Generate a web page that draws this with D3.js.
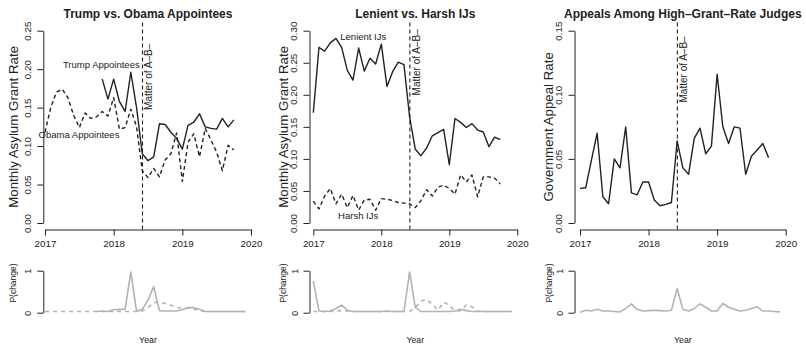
<!DOCTYPE html>
<html>
<head>
<meta charset="utf-8">
<script src="https://cdn.jsdelivr.net/npm/d3@7"></script>
<style>
  body { margin: 0; background: #fff; }
  svg { display: block; font-family: "Liberation Sans", Arial, Helvetica, sans-serif; }
</style>
</head>
<body>
<svg id="chart" width="806" height="348"></svg>
<script>
// Monthly series, January 2017 onward
const monthIndex = d3.range(36);
const toYear = i => 2017 + i / 12;
const yearTicks = [2017, 2018, 2019, 2020];
const matterOfAB = 2018.42;

// Monthly asylum grant rates by appointing administration
const trumpRate = [null, null, null, null, null, null, null, null, null, null,
  0.187, 0.161, 0.187, 0.158, 0.145, 0.196, 0.150, 0.090, 0.081, 0.086,
  0.129, 0.128, 0.118, 0.110, 0.096, 0.127, 0.131, 0.142, 0.125, 0.123,
  0.122, 0.136, 0.125, 0.134];
const obamaRate = [0.118, 0.150, 0.170, 0.174, 0.163, 0.140, 0.124, 0.143, 0.136, 0.138,
  0.145, 0.139, 0.163, 0.122, 0.124, 0.148, 0.125, 0.068, 0.059, 0.071,
  0.060, 0.082, 0.090, 0.117, 0.054, 0.105, 0.116, 0.086, 0.123, 0.108,
  0.092, 0.068, 0.101, 0.095];

// Monthly asylum grant rates of lenient and harsh immigration judges
const lenientRate = [0.172, 0.274, 0.268, 0.281, 0.288, 0.274, 0.238, 0.223, 0.273, 0.237,
  0.257, 0.248, 0.279, 0.213, 0.236, 0.251, 0.247, 0.165, 0.115, 0.105,
  0.117, 0.136, 0.141, 0.146, 0.091, 0.163, 0.157, 0.149, 0.155, 0.145,
  0.142, 0.119, 0.134, 0.130];
const harshRate = [0.034, 0.022, 0.042, 0.054, 0.030, 0.045, 0.024, 0.043, 0.020, 0.036,
  0.037, 0.020, 0.038, 0.037, 0.035, 0.032, 0.031, 0.030, 0.024, 0.035,
  0.052, 0.042, 0.056, 0.059, 0.054, 0.045, 0.075, 0.064, 0.075, 0.041,
  0.072, 0.072, 0.070, 0.061];

// Government appeal rate among high-grant-rate judges
const appealRate = [0.027, 0.0275, 0.049, 0.070, 0.0205, 0.015, 0.050, 0.043, 0.075, 0.0235,
  0.022, 0.032, 0.032, 0.018, 0.0135, 0.0145, 0.016, 0.064, 0.043, 0.038,
  0.066, 0.074, 0.054, 0.060, 0.116, 0.075, 0.062, 0.075, 0.074, 0.038,
  0.052, 0.057, 0.062, 0.051];

// Posterior probability of a change point in each month
const pChangeTrump = [null, null, null, null, null, null, null, null, null,
  0.03, 0.04, 0.03, 0.07, 0.08, 0.08, 0.97, 0.03, 0.08, 0.30, 0.62,
  0.05, 0.04, 0.04, 0.04, 0.07, 0.12, 0.12, 0.08, 0.03, 0.03,
  0.03, 0.03, 0.03, 0.03, 0.03, 0.03];
const pChangeObama = [0.03, 0.03, 0.03, 0.03, 0.03, 0.03, 0.03, 0.03, 0.03, 0.03,
  0.03, 0.03, 0.03, 0.03, 0.03, 0.03, 0.03, 0.04, 0.12, 0.24,
  0.25, 0.22, 0.18, 0.13, 0.10, 0.11, 0.09, 0.05, 0.03, 0.03,
  0.03, 0.03, 0.03, 0.03, 0.03, 0.03];
const pChangeLenient = [0.76, 0.04, 0.03, 0.04, 0.10, 0.18, 0.06, 0.03, 0.03, 0.03,
  0.03, 0.03, 0.03, 0.04, 0.03, 0.03, 0.03, 0.97, 0.12, 0.03,
  0.03, 0.03, 0.03, 0.03, 0.03, 0.04, 0.08, 0.05, 0.03, 0.03,
  0.03, 0.03, 0.03, 0.03, 0.03, 0.03];
const pChangeHarsh = [0.03, 0.03, 0.03, 0.03, 0.04, 0.05, 0.04, 0.03, 0.03, 0.03,
  0.03, 0.03, 0.03, 0.03, 0.03, 0.03, 0.03, 0.03, 0.12, 0.28,
  0.32, 0.20, 0.06, 0.25, 0.18, 0.04, 0.05, 0.19, 0.14, 0.04,
  0.03, 0.03, 0.03, 0.03, 0.03, 0.03];
const pChangeAppeal = [0.01, 0.06, 0.04, 0.08, 0.04, 0.04, 0.03, 0.02, 0.10, 0.21,
  0.08, 0.04, 0.05, 0.06, 0.05, 0.04, 0.06, 0.58, 0.08, 0.04,
  0.10, 0.21, 0.13, 0.04, 0.04, 0.22, 0.13, 0.08, 0.04, 0.06,
  0.10, 0.14, 0.04, 0.04, 0.03, 0.02];

const panels = [
  {
    title: "Trump vs. Obama Appointees",
    ylab: "Monthly Asylum Grant Rate",
    yMax: 0.25, yTicks: [0, 0.05, 0.10, 0.15, 0.20, 0.25],
    series: [{ values: trumpRate, dashed: false }, { values: obamaRate, dashed: true }],
    labels: [{ text: "Trump Appointees", t: 2017.82, v: 0.206 },
             { text: "Obama Appointees", t: 2017.495, v: 0.115 }],
    matterV: 0.147,
    pSeries: [{ values: pChangeTrump, dashed: false }, { values: pChangeObama, dashed: true }],
    layout: { x0: 45, x1: 251, axisX: 43.3, ylabX: 18, pLabX: 15.5 }
  },
  {
    title: "Lenient vs. Harsh IJs",
    ylab: "Monthly Asylum Grant Rate",
    yMax: 0.30, yTicks: [0, 0.05, 0.10, 0.15, 0.20, 0.25, 0.30],
    series: [{ values: lenientRate, dashed: false }, { values: harshRate, dashed: true }],
    labels: [{ text: "Lenient IJs", t: 2017.735, v: 0.29 },
             { text: "Harsh IJs", t: 2017.66, v: 0.012 }],
    matterV: 0.199,
    pSeries: [{ values: pChangeLenient, dashed: false }, { values: pChangeHarsh, dashed: true }],
    layout: { x0: 313.3, x1: 517.3, axisX: 309.5, ylabX: 288, pLabX: 285.5 }
  },
  {
    title: "Appeals Among High\u2013Grant\u2013Rate Judges",
    ylab: "Government Appeal Rate",
    yMax: 0.15, yTicks: [0, 0.05, 0.10, 0.15],
    series: [{ values: appealRate, dashed: false }],
    labels: [],
    matterV: 0.094,
    pSeries: [{ values: pChangeAppeal, dashed: false }],
    layout: { x0: 580, x1: 785.7, axisX: 574.5, ylabX: 552.5, pLabX: 551.5 }
  }
];

const ink = "#222";
const topY = { base: 223, top: 30.7, axis: 229.5, frameTop: 22.5 };
const botY = { base: 312.7, top: 270.7 };
const fmt2 = d3.format(".2f");

const svg = d3.select("#chart");

panels.forEach(p => {
  const L = p.layout;
  const g = svg.append("g");

  const x = d3.scaleLinear().domain([2017, 2020]).range([L.x0, L.x1]);
  const y = d3.scaleLinear().domain([0, p.yMax]).range([topY.base, topY.top]);
  const yP = d3.scaleLinear().domain([0, 1]).range([botY.base, botY.top]);

  // Title
  g.append("text")
    .attr("x", (L.x0 + L.x1) / 2).attr("y", 17.5)
    .attr("text-anchor", "middle")
    .attr("font-size", 12).attr("font-weight", "bold").attr("fill", ink)
    .text(p.title);

  // X axis
  const xAxis = g.append("g")
    .attr("transform", `translate(0,${topY.axis})`)
    .call(d3.axisBottom(x).tickValues(yearTicks).tickFormat(d3.format("d")).tickSize(6).tickSizeOuter(0));
  xAxis.selectAll("text").attr("y", 17).attr("dy", 0).attr("font-size", 9.8).attr("fill", ink);

  // Y axis with rotated tick labels
  const yAxis = g.append("g")
    .attr("transform", `translate(${L.axisX},0)`)
    .call(d3.axisLeft(y).tickValues(p.yTicks).tickFormat(fmt2).tickSize(6).tickSizeOuter(0));
  yAxis.selectAll("text")
    .attr("transform", "rotate(-90)")
    .attr("x", 0).attr("y", -12.5).attr("dy", 0)
    .attr("text-anchor", "middle").attr("font-size", 9.8).attr("fill", ink);

  [xAxis, yAxis].forEach(a => {
    a.attr("font-family", null);
    a.selectAll("path, line").attr("stroke", ink);
  });

  // Y axis title
  g.append("text")
    .attr("transform", `translate(${L.ylabX},${(topY.base + topY.top) / 2}) rotate(-90)`)
    .attr("text-anchor", "middle").attr("font-size", 13.3).attr("fill", ink)
    .text(p.ylab);

  // Decision date marker
  const mx = x(matterOfAB);
  g.append("line")
    .attr("x1", mx).attr("x2", mx)
    .attr("y1", topY.frameTop).attr("y2", topY.axis)
    .attr("stroke", ink).attr("stroke-width", 1.1).attr("stroke-dasharray", "4,3");
  g.append("text")
    .attr("transform", `translate(${mx + 9.7},${y(p.matterV)}) rotate(-90)`)
    .attr("text-anchor", "start").attr("font-size", 10).attr("fill", ink)
    .text("Matter of A\u2013B\u2013");

  // Rate series
  const line = d3.line()
    .defined(d => d[1] != null)
    .x(d => x(toYear(d[0])))
    .y(d => y(d[1]));
  p.series.forEach(s => {
    g.append("path")
      .datum(s.values.map((v, i) => [monthIndex[i], v]))
      .attr("fill", "none").attr("stroke", ink).attr("stroke-width", 1.4)
      .attr("stroke-linejoin", "round")
      .attr("stroke-dasharray", s.dashed ? "4,3" : null)
      .attr("d", line);
  });

  // Series labels
  p.labels.forEach(l => {
    g.append("text")
      .attr("x", x(l.t)).attr("y", y(l.v)).attr("dy", "0.35em")
      .attr("text-anchor", "middle").attr("font-size", 9.5).attr("fill", ink)
      .text(l.text);
  });

  // Change-point probability strip
  const pAxis = g.append("g")
    .attr("transform", `translate(${L.axisX},0)`)
    .call(d3.axisLeft(yP).tickValues([0, 1]).tickFormat(d3.format("d")).tickSize(6).tickSizeOuter(0));
  pAxis.attr("font-family", null);
  pAxis.selectAll("path, line").attr("stroke", ink);
  pAxis.selectAll("text")
    .attr("transform", "rotate(-90)")
    .attr("x", 0).attr("y", -12).attr("dy", 0)
    .attr("text-anchor", "middle").attr("font-size", 8.8).attr("fill", ink);

  g.append("text")
    .attr("transform", `translate(${L.pLabX},283) rotate(-90)`)
    .attr("text-anchor", "middle").attr("font-size", 8.5).attr("fill", ink)
    .text("P(change)");

  g.append("text")
    .attr("x", (L.x0 + L.x1) / 2).attr("y", 342.5)
    .attr("text-anchor", "middle").attr("font-size", 8.8).attr("fill", ink)
    .text("Year");

  const pLine = d3.line()
    .defined(d => d[1] != null)
    .x(d => x(toYear(d[0])))
    .y(d => yP(d[1]));
  p.pSeries.forEach(s => {
    g.append("path")
      .datum(s.values.map((v, i) => [monthIndex[i], v]))
      .attr("fill", "none").attr("stroke", "#b3b3b3").attr("stroke-width", 1.6)
      .attr("stroke-linejoin", "round")
      .attr("stroke-dasharray", s.dashed ? "4,4" : null)
      .attr("d", pLine);
  });
});
</script>
</body>
</html>
